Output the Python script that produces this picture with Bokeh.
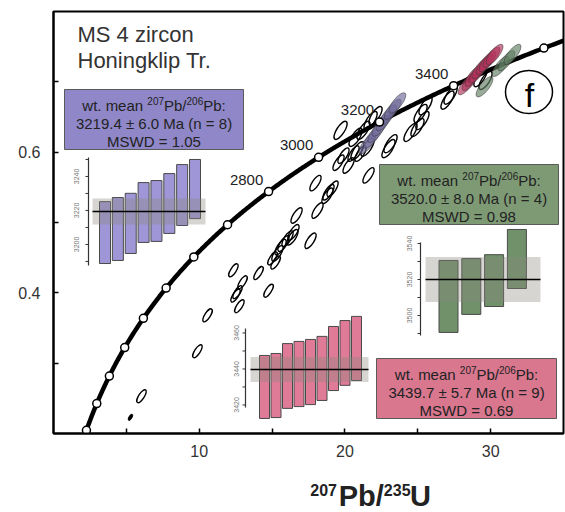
import numpy as np
from bokeh.plotting import figure
from bokeh.layouts import column
from bokeh.models import Range1d, FixedTicker
from bokeh.core.properties import value
from bokeh.embed import file_html
from bokeh.resources import INLINE

# ---------------- data ----------------
LAMBDA_238 = 1.55125e-10
LAMBDA_235 = 9.8485e-10
marker_ages = [1200, 1400, 1600, 1800, 2000, 2200, 2400, 2600, 2800, 3000, 3200, 3400, 3600]
labelled_ages = [2800, 3000, 3200, 3400]

x_ticks = [10, 20, 30]
x_minor = [5, 15, 25]
y_ticks = [0.4, 0.6]
y_minor = [0.3, 0.5, 0.7]

# unselected analyses (207Pb/235U, 206Pb/238U)
open_r75 = [16.68, 18.12, 16.47, 16.40, 17.64, 15.58, 15.37, 15.03, 15.78, 15.24,
            12.35, 14.07, 12.97, 12.63, 12.49, 14.76, 12.76, 10.57, 9.88, 6.04,
            19.70, 19.90, 19.56, 20.25, 20.86, 21.07, 21.62, 22.99, 17.98, 19.15,
            18.87, 18.80, 25.53, 25.19, 24.98, 24.50, 25.32, 23.13, 27.25, 27.04,
            29.30, 29.65, 21.76, 21.27, 20.73, 22.10, 20.59, 21.55, 16.06]
open_r68 = [0.510, 0.517, 0.486, 0.479, 0.474, 0.465, 0.456, 0.449, 0.470, 0.443,
            0.432, 0.428, 0.415, 0.401, 0.396, 0.403, 0.381, 0.368, 0.317, 0.253,
            0.631, 0.595, 0.585, 0.581, 0.602, 0.598, 0.567, 0.605, 0.556, 0.548,
            0.543, 0.538, 0.666, 0.655, 0.635, 0.628, 0.645, 0.612, 0.681, 0.674,
            0.706, 0.702, 0.645, 0.631, 0.621, 0.652, 0.598, 0.607, 0.477]
tiny_r75 = [5.28]
tiny_r68 = [0.223]

purple_r75 = [21.55, 21.85, 22.15, 22.44, 22.72, 22.98, 23.28, 23.60]
purple_r68 = [0.612, 0.620, 0.628, 0.637, 0.645, 0.653, 0.661, 0.670]
pink_r75 = [28.34, 28.62, 28.82, 29.10, 29.30, 29.58, 29.79, 30.06, 30.27]
pink_r68 = [0.696, 0.702, 0.708, 0.713, 0.719, 0.725, 0.729, 0.735, 0.739]
green_r75 = [29.58, 30.68, 31.09, 31.50]
green_r68 = [0.693, 0.722, 0.730, 0.739]

# weighted-mean insets (207Pb/206Pb ages, Ma)
purple_ages = [3207.0, 3209.1, 3212.4, 3218.8, 3219.7, 3224.1, 3229.1, 3232.6]
purple_err = [18.2, 18.5, 17.7, 17.6, 17.9, 17.6, 17.9, 17.4]
purple_mean, purple_pm, purple_band, purple_n, purple_mswd = 3219.4, 6.0, 7.6, 8, 1.05
purple_tick_labels = [3200, 3220, 3240]

pink_ages = [3430.0, 3430.8, 3436.1, 3437.2, 3438.3, 3440.3, 3445.8, 3448.9, 3451.4]
pink_err = [17.5, 17.8, 18.0, 18.1, 18.1, 17.8, 17.8, 18.0, 17.8]
pink_mean, pink_pm, pink_band, pink_n, pink_mswd = 3439.7, 5.7, 6.9, 9, 0.69
pink_tick_labels = [3420, 3440, 3460]

green_ages = [3510.6, 3516.1, 3519.4, 3531.4]
green_err = [20.0, 15.5, 14.4, 16.4]
green_mean, green_pm, green_band, green_n, green_mswd = 3520.0, 8.0, 12.5, 4, 0.98
green_tick_labels = [3500, 3520, 3540]

title_lines = ["MS 4 zircon", "Honingklip Tr."]
x_title_parts = ["207", "Pb/", "235", "U"]

# ---------------- layout ----------------
W, H = 565, 512
H1 = 465
FL, FR, FT, FB = 53, 563, 11, 433
FONT = "Liberation Sans"

p = figure(width=W, height=H1, x_range=Range1d(0, 35), y_range=Range1d(0.2, 0.8),
           output_backend="svg", toolbar_location=None,
           min_border_left=FL, min_border_right=W - FR,
           min_border_top=FT, min_border_bottom=H1 - FB)
p.background_fill_color = "white"
p.border_fill_color = "white"
p.outline_line_color = "black"
p.outline_line_width = 2
p.grid.visible = False

p.xaxis.ticker = FixedTicker(ticks=x_ticks, minor_ticks=x_minor)
p.yaxis.ticker = FixedTicker(ticks=y_ticks, minor_ticks=y_minor)
for ax in (p.xaxis, p.yaxis):
    ax.axis_line_width = 2
    ax.axis_line_color = "black"
    ax.major_tick_in = 5
    ax.major_tick_out = 0
    ax.minor_tick_in = 5
    ax.minor_tick_out = 0
    ax.major_tick_line_width = 1.5
    ax.minor_tick_line_width = 1.5
    ax.minor_tick_line_color = "black"
    ax.major_label_text_font = FONT
    ax.major_label_text_font_size = "16px"
    ax.major_label_text_color = "#333333"
p.yaxis.major_label_standoff = 13
p.xaxis.major_label_standoff = 11

# pixel-space helper range for annotations inside the frame
p.extra_x_ranges["px"] = Range1d(FL, FR)
p.extra_y_ranges["px"] = Range1d(FB, FT)
PX = dict(x_range_name="px", y_range_name="px")

# ---------------- unselected ellipses ----------------
o75 = np.array(open_r75)
o68 = np.array(open_r68)
elen = np.where(o68 < 0.45, 15.0, np.where(o68 < 0.6, 18.0, 21.0))
p.ellipse(o75, o68, width=elen, height=elen * 0.37, angle=np.radians(57),
          width_units="screen", height_units="screen",
          fill_color=None, line_color="black", line_width=1.4)
p.ellipse(tiny_r75, tiny_r68, width=7, height=3, angle=np.radians(60),
          width_units="screen", height_units="screen",
          fill_color="black", line_color="black", line_width=1)

# ---------------- concordia ----------------
t = np.arange(1150, 3700, 5) * 1e6
p.line(np.exp(LAMBDA_235 * t) - 1, np.exp(LAMBDA_238 * t) - 1,
       line_color="black", line_width=4.5)

# selected ellipses
for xs, ys, col in ((purple_r75, purple_r68, "#6e6a99"),
                    (pink_r75, pink_r68, "#b0335b"),
                    (green_r75, green_r68, "#5f7e61")):
    p.ellipse(xs, ys, width=25, height=9, angle=np.radians(52),
              width_units="screen", height_units="screen",
              fill_color=col, fill_alpha=0.65, line_color="#333333",
              line_alpha=0.5, line_width=1)

ma = np.array(marker_ages) * 1e6
p.scatter(np.exp(LAMBDA_235 * ma) - 1, np.exp(LAMBDA_238 * ma) - 1, size=8,
          fill_color="white", line_color="black", line_width=1.5)
la = np.array(labelled_ages) * 1e6
p.text(np.exp(LAMBDA_235 * la) - 1, np.exp(LAMBDA_238 * la) - 1,
       text=[str(a) for a in labelled_ages], x_offset=-22, y_offset=-12,
       text_font=value(FONT), text_font_size="15px", text_align="center",
       text_baseline="middle", text_color="#222222")

# ---------------- title and panel letter ----------------
p.text(x=[77, 77], y=[33.5, 60], text=title_lines, text_font=value(FONT),
       text_font_size="22px", text_align="left", text_baseline="middle",
       text_color="#333333", **PX)
p.ellipse(x=[528.5], y=[91.5], width=47, height=43, width_units="screen",
          height_units="screen", fill_color=None, line_color="black",
          line_width=1.5, **PX)
p.text(x=[529], y=[94], text=["f"], text_font=value(FONT), text_font_size="34px",
       text_align="center", text_baseline="middle", text_color="black", **PX)

# ---------------- inset bar plots ----------------
def draw_inset(name, ages, errs, mean, band, bar_color, i0, di, bw, y0, k,
               ax_px, ax_top, ax_bot, band_px, lab_px, tick_labels):
    p.extra_x_ranges[name] = Range1d(1 - (i0 - FL) / di, 1 + (FR - i0) / di)
    p.extra_y_ranges[name] = Range1d(mean - (FB - y0) / k, mean + (y0 - FT) / k)
    kw = dict(x_range_name=name, y_range_name=name)
    ix = lambda px: 1 + (px - i0) / di
    ma_ = lambda py: mean + (y0 - py) / k
    idx = np.arange(1, len(ages) + 1)
    a = np.array(ages)
    e = np.array(errs)
    p.quad(left=idx - bw / 2 / di, right=idx + bw / 2 / di, bottom=a - e, top=a + e,
           fill_color=bar_color, line_color="#4a4a4a", line_width=1, **kw)
    p.quad(left=[ix(band_px[0])], right=[ix(band_px[1])], bottom=[mean - band],
           top=[mean + band], fill_color="#8a877a", fill_alpha=0.35,
           line_color=None, **kw)
    p.segment(x0=[ix(band_px[0])], y0=[mean], x1=[ix(band_px[1])], y1=[mean],
              line_color="black", line_width=1.6, **kw)
    lo, hi = ma_(ax_bot), ma_(ax_top)
    p.segment(x0=[ix(ax_px)], y0=[lo], x1=[ix(ax_px)], y1=[hi],
              line_color="#333333", line_width=1.2, **kw)
    ticks = np.arange(np.ceil(lo / 10) * 10, hi + 0.01, 10)
    p.segment(x0=[ix(ax_px)] * len(ticks), y0=ticks, x1=[ix(ax_px - 3)] * len(ticks),
              y1=ticks, line_color="#333333", line_width=1, **kw)
    p.text(x=[ix(lab_px)] * len(tick_labels), y=tick_labels,
           text=[str(v) for v in tick_labels], angle=np.pi / 2,
           text_font=value(FONT), text_font_size="7px", text_align="center",
           text_baseline="middle", text_color="#777777", **kw)

draw_inset("purple", purple_ages, purple_err, purple_mean, purple_band, "#9f96d8",
           104.5, 12.86, 11, 211, 1.7, 88, 157, 265, (92, 205), 76, purple_tick_labels)
draw_inset("pink", pink_ages, pink_err, pink_mean, pink_band, "#df7a97",
           264, 11.5, 10, 369, 1.8, 245, 328, 407, (250, 368), 236, pink_tick_labels)
draw_inset("green", green_ages, green_err, green_mean, green_band, "#70916a",
           448, 22.8, 19, 279, 1.8, 420, 242, 335, (425, 540), 409, green_tick_labels)

# ---------------- result boxes ----------------
AW = {' ': 278, '.': 278, ':': 278, '/': 278, 'w': 722, 't': 278, 'm': 833,
      'e': 556, 'a': 556, 'n': 556, 'P': 667, 'b': 556}

def tw(s, size):
    return sum(AW.get(c, 556) for c in s) * size / 1000.0

def result_box(left, top, right, bottom, color, mean, pm, n, mswd):
    p.quad(left=[left], right=[right], top=[top], bottom=[bottom], fill_color=color,
           line_color="#5a5a5a", line_width=1, **PX)
    cx = (left + right) / 2
    c1, c2, c3 = top + 15.5, top + 33.5, top + 51.5
    pieces = [("wt. mean ", 15, 0), ("207", 10, 6), ("Pb/", 15, 0), ("206", 10, 6), ("Pb:", 15, 0)]
    total = sum(tw(s, sz) for s, sz, _ in pieces)
    xcur = cx - total / 2
    nx, ny, nt, sx, sy, st = [], [], [], [], [], []
    for s, sz, up in pieces:
        if up:
            sx.append(xcur); sy.append(c1 - 4.5); st.append(s)
        else:
            nx.append(xcur); ny.append(c1); nt.append(s)
        xcur += tw(s, sz)
    common = dict(text_font=value(FONT), text_align="left", text_baseline="middle",
                  text_color="#222222", **PX)
    p.text(x=nx, y=ny, text=nt, text_font_size="15px", **common)
    p.text(x=sx, y=sy, text=st, text_font_size="10px", **common)
    p.text(x=[cx, cx], y=[c2, c3],
           text=[f"{mean:.1f} \u00b1 {pm:.1f} Ma (n = {n})", f"MSWD = {mswd:.2f}"],
           text_font=value(FONT), text_font_size="15px", text_align="center",
           text_baseline="middle", text_color="#222222", **PX)

result_box(64, 89, 243, 149, "#8f87c8", purple_mean, purple_pm, purple_n, purple_mswd)
result_box(379, 164, 558, 224, "#7e9a75", green_mean, green_pm, green_n, green_mswd)
result_box(376, 358, 556, 418, "#d9778f", pink_mean, pink_pm, pink_n, pink_mswd)

# ---------------- x-axis title (strip below the plot) ----------------
H2 = H - H1
q = figure(width=W, height=H2, x_range=Range1d(0, W), y_range=Range1d(H2, 0),
           output_backend="svg", toolbar_location=None, x_axis_type=None,
           y_axis_type=None, min_border=0)
q.outline_line_color = None
q.grid.visible = False
q.background_fill_color = "white"
q.border_fill_color = "white"

tcommon = dict(text_font=value(FONT), text_font_style="bold",
               text_baseline="middle", text_color="#222222")
q.text(x=[314, 366], y=[489 - H1, 489 - H1], text=[x_title_parts[0], x_title_parts[2]],
       text_align=["right", "left"], text_font_size="16px", **tcommon)
q.text(x=[316, 395], y=[495 - H1, 495 - H1], text=[x_title_parts[1], x_title_parts[3]],
       text_align="left", text_font_size="29px", **tcommon)

layout = column(p, q, spacing=0)
open("out.html", "w").write(file_html(layout, INLINE))
